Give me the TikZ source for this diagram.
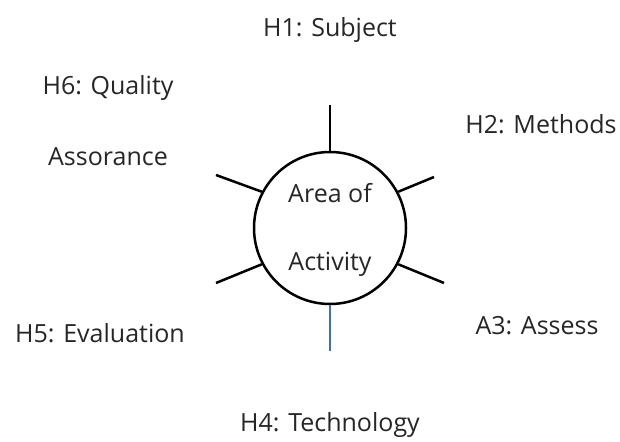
\documentclass[tikz,border=0pt]{standalone}
\usepackage{fontspec}
\setmainfont{Open Sans}
\begin{document}
\begin{tikzpicture}[x=1pt,y=-1pt,
  lbl/.style={font=\fontsize{25}{30}\selectfont, text=black!85, inner sep=0pt},
  spoke/.style={line width=2.5pt, black},
  hub/.style={circle, draw=black, line width=2.5pt, minimum size=152pt, inner sep=0pt}]
\useasboundingbox (0,0) rectangle (620,441);
\node[hub] (c) at (330,228) {};
\node[lbl] (a1) at (330,193) {Area of};
\node[lbl] (a2) at (330,264) {Activity};
\node[lbl] (h1) at (330,30) {H1: Subject};
\node[lbl] (h6) at (108,88) {H6: Quality};
\node[lbl] (h6b) at (108,157) {Assorance};
\node[lbl] (h2) at (541,124) {H2: Methods};
\node[lbl] (h5) at (100,333) {H5: Evaluation};
\node[lbl] (a3) at (537,326) {A3: Assess};
\node[lbl] (h4) at (330,425) {H4: Technology};
\coordinate (e1) at (330,105);
\coordinate (e2) at (434,177);
\coordinate (e3) at (444,283);
\coordinate (e4) at (330,351);
\coordinate (e5) at (216,283);
\coordinate (e6) at (216,175);
\draw[spoke] (c.90) -- (e1);
\draw[spoke] (c.28) -- (e2);
\draw[spoke] (c.-28) -- (e3);
\draw[line width=2.3pt, color={rgb,255:red,68;green,114;blue,168}] (c.-90) -- (e4);
\draw[spoke] (c.208) -- (e5);
\draw[spoke] (c.152) -- (e6);
\end{tikzpicture}
\end{document}
